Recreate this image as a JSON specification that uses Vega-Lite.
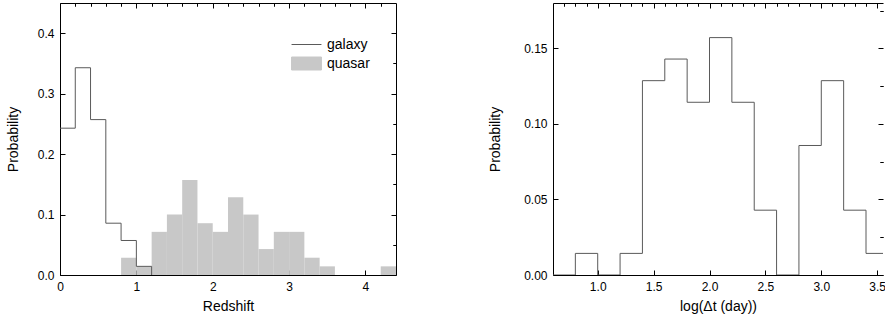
{
  "$schema": "https://vega.github.io/schema/vega-lite/v6.json",
  "padding": {"left": 5, "top": 2, "right": 0, "bottom": 0},
  "spacing": 91,
  "config": {
    "view": {"stroke": "#000", "strokeWidth": 1},
    "font": "Liberation Sans",
    "axis": {"grid": false, "domain": false, "domainColor": "#000", "domainWidth": 1, "tickColor": "#000", "tickWidth": 1, "labelColor": "#000", "titleColor": "#000", "labelFontSize": 12, "titleFontSize": 14, "titleFontWeight": "normal", "labelFont": "Liberation Sans", "titleFont": "Liberation Sans", "labelFlush": false, "labelOverlap": false}
  },
  "datasets": {
    "quasar": [
      {"z0": 0.8, "z1": 1.0, "p": 0.0286}, {"z0": 1.0, "z1": 1.2, "p": 0.0143}, {"z0": 1.2, "z1": 1.4, "p": 0.0714},
      {"z0": 1.4, "z1": 1.6, "p": 0.1}, {"z0": 1.6, "z1": 1.8, "p": 0.1571}, {"z0": 1.8, "z1": 2.0, "p": 0.0857},
      {"z0": 2.0, "z1": 2.2, "p": 0.0714}, {"z0": 2.2, "z1": 2.4, "p": 0.1286}, {"z0": 2.4, "z1": 2.6, "p": 0.1},
      {"z0": 2.6, "z1": 2.8, "p": 0.0429}, {"z0": 2.8, "z1": 3.0, "p": 0.0714}, {"z0": 3.0, "z1": 3.2, "p": 0.0714},
      {"z0": 3.2, "z1": 3.4, "p": 0.0286}, {"z0": 3.4, "z1": 3.6, "p": 0.0143}, {"z0": 4.2, "z1": 4.4, "p": 0.0143}
    ],
    "galaxy": [
      {"z": 0, "p": 0.2429}, {"z": 0.2, "p": 0.3429}, {"z": 0.4, "p": 0.2571}, {"z": 0.6, "p": 0.0857},
      {"z": 0.8, "p": 0.0571}, {"z": 1.0, "p": 0.0143}, {"z": 1.2, "p": 0}
    ],
    "dt": [
      {"t": 0.6, "p": 0}, {"t": 0.8, "p": 0.0143}, {"t": 1.0, "p": 0}, {"t": 1.2, "p": 0.0143},
      {"t": 1.4, "p": 0.1286}, {"t": 1.6, "p": 0.1429}, {"t": 1.8, "p": 0.1143}, {"t": 2.0, "p": 0.1571},
      {"t": 2.2, "p": 0.1143}, {"t": 2.4, "p": 0.0429}, {"t": 2.6, "p": 0}, {"t": 2.8, "p": 0.0857},
      {"t": 3.0, "p": 0.1286}, {"t": 3.2, "p": 0.0429}, {"t": 3.4, "p": 0.0143}, {"t": 3.6, "p": 0.0143}
    ]
  },
  "hconcat": [
    {
      "width": 336,
      "height": 272,
      "layer": [
        {
          "data": {"name": "quasar"},
          "mark": {"type": "bar", "orient": "vertical", "opacity": 1},
          "encoding": {
            "x": {"field": "z0", "type": "quantitative", "scale": {"domain": [0, 4.4], "nice": false, "zero": false, "padding": 0},
                  "axis": {"title": "Redshift", "values": [0, 1, 2, 3, 4], "format": "d", "tickSize": -5, "labelPadding": 11, "titlePadding": 7}},
            "x2": {"field": "z1"},
            "y": {"field": "p", "type": "quantitative", "scale": {"domain": [0, 0.45], "nice": false, "padding": 0},
                  "axis": {"title": "Probability", "values": [0, 0.1, 0.2, 0.3, 0.4], "format": ".1f", "tickSize": -5, "labelPadding": 11, "titlePadding": 17}},
            "color": {
              "datum": "quasar", "type": "nominal",
              "scale": {"domain": ["galaxy", "quasar"], "range": ["#5a5a5a", "#c8c8c8"]},
              "legend": {
                "orient": "none", "legendX": 239.5, "legendY": 34.5, "title": null, "padding": 0,
                "labelFontSize": 14, "labelColor": "#000", "labelFont": "Liberation Sans",
                "symbolSize": 169, "labelOffset": 13.5, "rowPadding": 3, "symbolStrokeWidth": 1, "symbolOpacity": 1,
                "encode": {
                  "symbols": {
                    "update": {
                      "shape": {"signal": "datum.value === 'galaxy' ? 'M-2.3,0H2.3' : 'M-2.3,-1H2.3V1H-2.3Z'"},
                      "fill": {"signal": "datum.value === 'galaxy' ? 'transparent' : '#c8c8c8'"},
                      "stroke": {"signal": "datum.value === 'galaxy' ? '#5a5a5a' : 'transparent'"},
                      "strokeWidth": {"value": 1},
                      "opacity": {"value": 1}
                    }
                  }
                }
              }
            }
          }
        },
        {
          "data": {"name": "galaxy"},
          "mark": {"type": "line", "interpolate": "step-after", "strokeWidth": 1},
          "encoding": {
            "x": {"field": "z", "type": "quantitative",
                  "axis": {"title": null, "labels": false, "tickSize": -3,
                           "values": [0.2, 0.4, 0.6, 0.8, 1.2, 1.4, 1.6, 1.8, 2.2, 2.4, 2.6, 2.8, 3.2, 3.4, 3.6, 3.8, 4.2]}},
            "y": {"field": "p", "type": "quantitative",
                  "axis": {"title": null, "labels": false, "tickSize": -3, "values": [0.05, 0.15, 0.25, 0.35]}},
            "color": {"datum": "galaxy", "type": "nominal"}
          }
        },
        {
          "data": {"name": "galaxy"},
          "mark": {"type": "line", "opacity": 0},
          "encoding": {
            "x": {"field": "z", "type": "quantitative",
                  "axis": {"orient": "top", "title": null, "labels": false, "tickSize": -5, "values": [0, 1, 2, 3, 4]}},
            "y": {"field": "p", "type": "quantitative",
                  "axis": {"orient": "right", "title": null, "labels": false, "tickSize": -5, "values": [0, 0.1, 0.2, 0.3, 0.4]}}
          }
        },
        {
          "data": {"name": "galaxy"},
          "mark": {"type": "line", "opacity": 0},
          "encoding": {
            "x": {"field": "z", "type": "quantitative",
                  "axis": {"orient": "top", "title": null, "labels": false, "tickSize": -3,
                           "values": [0.2, 0.4, 0.6, 0.8, 1.2, 1.4, 1.6, 1.8, 2.2, 2.4, 2.6, 2.8, 3.2, 3.4, 3.6, 3.8, 4.2]}},
            "y": {"field": "p", "type": "quantitative",
                  "axis": {"orient": "right", "title": null, "labels": false, "tickSize": -3, "values": [0.05, 0.15, 0.25, 0.35]}}
          }
        }
      ],
      "resolve": {"axis": {"x": "independent", "y": "independent"}}
    },
    {
      "width": 330,
      "height": 272,
      "view": {"stroke": null},
      "layer": [
        {
          "data": {"name": "dt"},
          "mark": {"type": "line", "interpolate": "step-after", "strokeWidth": 1, "color": "#5a5a5a", "clip": true},
          "encoding": {
            "x": {"field": "t", "type": "quantitative", "scale": {"domain": [0.6, 3.552], "nice": false, "zero": false},
                  "axis": {"title": "log(Δt (day))", "domain": true, "values": [1, 1.5, 2, 2.5, 3, 3.5], "format": ".1f", "tickSize": -5, "labelPadding": 11, "titlePadding": 7}},
            "y": {"field": "p", "type": "quantitative", "scale": {"domain": [0, 0.18], "nice": false},
                  "axis": {"title": "Probability", "domain": true, "values": [0, 0.05, 0.1, 0.15], "format": ".2f", "tickSize": -5, "labelPadding": 11, "titlePadding": 21}}
          }
        },
        {
          "data": {"name": "dt"},
          "mark": {"type": "line", "opacity": 0, "clip": true},
          "encoding": {
            "x": {"field": "t", "type": "quantitative",
                  "axis": {"title": null, "labels": false, "tickSize": -3,
                           "values": [0.7, 0.8, 0.9, 1.1, 1.2, 1.3, 1.4, 1.6, 1.7, 1.8, 1.9, 2.1, 2.2, 2.3, 2.4, 2.6, 2.7, 2.8, 2.9, 3.1, 3.2, 3.3, 3.4]}},
            "y": {"field": "p", "type": "quantitative",
                  "axis": {"title": null, "labels": false, "tickSize": -3, "values": [0.025, 0.075, 0.125, 0.175]}}
          }
        },
        {
          "data": {"name": "dt"},
          "mark": {"type": "line", "opacity": 0, "clip": true},
          "encoding": {
            "x": {"field": "t", "type": "quantitative",
                  "axis": {"orient": "top", "title": null, "domain": true, "labels": false, "tickSize": -5, "values": [1, 1.5, 2, 2.5, 3, 3.5]}},
            "y": {"field": "p", "type": "quantitative",
                  "axis": {"orient": "right", "title": null, "labels": false, "tickSize": -5, "values": [0, 0.05, 0.1, 0.15]}}
          }
        },
        {
          "data": {"name": "dt"},
          "mark": {"type": "line", "opacity": 0, "clip": true},
          "encoding": {
            "x": {"field": "t", "type": "quantitative",
                  "axis": {"orient": "top", "title": null, "labels": false, "tickSize": -3,
                           "values": [0.7, 0.8, 0.9, 1.1, 1.2, 1.3, 1.4, 1.6, 1.7, 1.8, 1.9, 2.1, 2.2, 2.3, 2.4, 2.6, 2.7, 2.8, 2.9, 3.1, 3.2, 3.3, 3.4]}},
            "y": {"field": "p", "type": "quantitative",
                  "axis": {"orient": "right", "title": null, "labels": false, "tickSize": -3, "values": [0.025, 0.075, 0.125, 0.175]}}
          }
        }
      ],
      "resolve": {"axis": {"x": "independent", "y": "independent"}}
    }
  ]
}
